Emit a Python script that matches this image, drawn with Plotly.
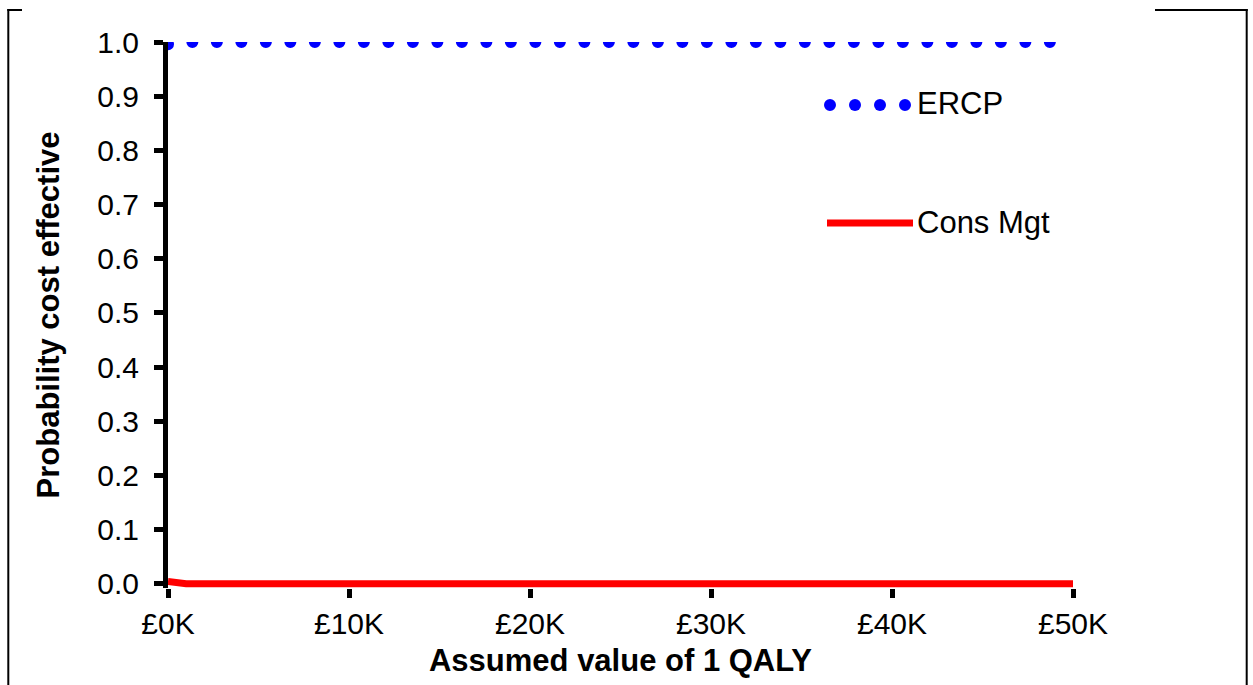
import plotly.graph_objects as go

# ---- data ----
qaly_value = [0, 1000, 2500, 5000, 7500, 10000, 12500, 15000, 17500, 20000, 22500,
              25000, 27500, 30000, 32500, 35000, 37500, 40000, 42500, 45000, 47500, 50000]
ercp = [0.996, 1.0, 1.0, 1.0, 1.0, 1.0, 1.0, 1.0, 1.0, 1.0, 1.0,
        1.0, 1.0, 1.0, 1.0, 1.0, 1.0, 1.0, 1.0, 1.0, 1.0, 1.0]
cons_mgt = [0.004, 0.0, 0.0, 0.0, 0.0, 0.0, 0.0, 0.0, 0.0, 0.0, 0.0,
            0.0, 0.0, 0.0, 0.0, 0.0, 0.0, 0.0, 0.0, 0.0, 0.0, 0.0]
x_ticks = [0, 10000, 20000, 30000, 40000, 50000]
x_tick_labels = ["£0K", "£10K", "£20K", "£30K", "£40K", "£50K"]
y_ticks = [0.0, 0.1, 0.2, 0.3, 0.4, 0.5, 0.6, 0.7, 0.8, 0.9, 1.0]
y_tick_labels = ["0.0", "0.1", "0.2", "0.3", "0.4", "0.5", "0.6", "0.7", "0.8", "0.9", "1.0"]
series_names = ["ERCP", "Cons Mgt"]

# ---- geometry (page body margin is removed, so figure px == screen px) ----
W, H = 1253, 685
ML, MR, MT = 168, 1253 - 1073, 42
MB = H - 588.3
PW = W - ML - MR
PH = H - MT - MB

def px(xs):
    return (xs - ML) / PW

def py(ys):
    return (H - MB - ys) / PH

FONT = "Liberation Sans, Arial, sans-serif"

fig = go.Figure()
fig.add_trace(go.Scatter(
    x=qaly_value, y=ercp, mode="lines", name=series_names[0],
    line=dict(color="#0000FF", width=12, dash="12px,12.5px"),
    showlegend=False,
))
fig.add_trace(go.Scatter(
    x=qaly_value, y=cons_mgt, mode="lines", name=series_names[1],
    line=dict(color="#FF0000", width=7),
    showlegend=False,
))

shapes = []
# outer frame (partial top edge)
for (x0, y0, x1, y1) in [(7.3, 10, 22, 10), (8.3, 9, 8.3, 700),
                         (1155, 10, 1247.7, 10), (1246.7, 9, 1246.7, 700)]:
    shapes.append(dict(type="line", xref="paper", yref="paper",
                       x0=px(x0), y0=py(y0), x1=px(x1), y1=py(y1),
                       line=dict(color="black", width=2)))
# legend symbols
for cx in [830, 855, 880, 905]:
    shapes.append(dict(type="circle", xref="paper", yref="paper",
                       xsizemode="pixel", ysizemode="pixel",
                       xanchor=px(cx), yanchor=py(105),
                       x0=-6, x1=6, y0=-6, y1=6,
                       fillcolor="#0000FF", line=dict(width=0)))
shapes.append(dict(type="line", xref="paper", yref="paper",
                   x0=px(827), y0=py(223), x1=px(913), y1=py(223),
                   line=dict(color="#FF0000", width=7)))

annotations = [
    dict(text=series_names[0], xref="paper", yref="paper", x=px(915), y=py(104),
         xanchor="left", yanchor="middle", showarrow=False,
         font=dict(family=FONT, size=31, color="black")),
    dict(text=series_names[1], xref="paper", yref="paper", x=px(915), y=py(223),
         xanchor="left", yanchor="middle", showarrow=False,
         font=dict(family=FONT, size=31, color="black")),
]

fig.update_layout(
    width=W, height=H,
    margin=dict(l=ML, r=MR, t=MT, b=MB, pad=0),
    paper_bgcolor="white", plot_bgcolor="white",
    font=dict(family=FONT, color="black"),
    shapes=shapes, annotations=annotations,
    showlegend=False,
    xaxis=dict(
        range=[0, 50000], tickvals=x_ticks, ticktext=x_tick_labels,
        showgrid=False, zeroline=False, showline=False,
        ticks="outside", ticklen=9, tickwidth=5, tickcolor="black",
        tickfont=dict(family=FONT, size=30, color="black"),
        title=dict(text="<b>Assumed value of 1 QALY</b>", standoff=10,
                   font=dict(family=FONT, size=31, color="black")),
        layer="below traces",
    ),
    yaxis=dict(
        range=[-0.008, 1.0], tickvals=y_ticks, ticktext=y_tick_labels,
        showgrid=False, zeroline=False,
        showline=True, linecolor="black", linewidth=5,
        ticks="outside", ticklen=9, tickwidth=5, tickcolor="black",
        tickfont=dict(family=FONT, size=30, color="black"),
        ticklabelstandoff=9,
        title=dict(text="<b>Probability cost effective</b>", standoff=30,
                   font=dict(family=FONT, size=31, color="black")),
        layer="below traces",
    ),
)

post = """
document.documentElement.style.overflow = 'hidden';
document.body.style.overflow = 'hidden';
document.body.style.margin = '0px';
document.body.style.padding = '0px';
var gd = document.getElementById('{plot_id}');
function fixDots(){
  var lines = gd.querySelectorAll('.scatterlayer .trace path.js-line');
  if (lines.length > 0) {
    lines[0].style.strokeDasharray = '0px, 24.5px';
    lines[0].style.strokeLinecap = 'round';
  }
}
fixDots();
gd.on && gd.on('plotly_afterplot', fixDots);
"""

fig.write_html("out.html", post_script=post, config={"displayModeBar": False})
